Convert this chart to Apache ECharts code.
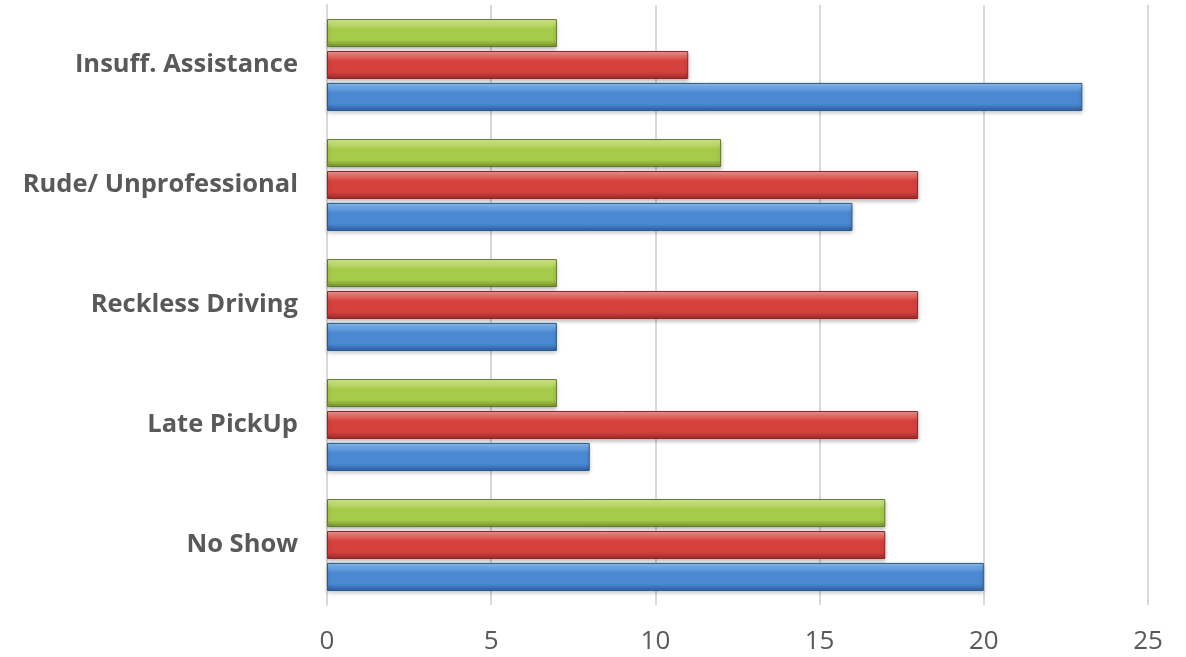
<!DOCTYPE html>
<html>
<head>
<meta charset="utf-8">
<script src="https://cdn.jsdelivr.net/npm/echarts@6/dist/echarts.min.js"></script>
<style>
html, body { margin: 0; padding: 0; background: #fff; }
#main { width: 1186px; height: 657px; }
</style>
</head>
<body>
<div id="main"></div>
<script>
// categories, bottom to top
var categories = ['No Show', 'Late PickUp', 'Reckless Driving', 'Rude/ Unprofessional', 'Insuff. Assistance'];
var blueValues = [20, 8, 7, 16, 23];
var redValues = [17, 18, 18, 18, 11];
var greenValues = [17, 7, 7, 12, 7];

function bevel(top, mid, bottom) {
    return new echarts.graphic.LinearGradient(0, 0, 0, 1, [
        {offset: 0, color: top},
        {offset: 0.35, color: mid},
        {offset: 0.75, color: mid},
        {offset: 1, color: bottom}
    ]);
}

function barSeries(name, data, top, mid, bottom, border) {
    return {
        name: name,
        type: 'bar',
        data: data,
        barWidth: 28,
        barGap: '14%',
        barCategoryGap: '23%',
        itemStyle: {
            color: bevel(top, mid, bottom),
            borderColor: border,
            borderWidth: 1,
            shadowColor: 'rgba(0,0,0,0.25)',
            shadowBlur: 4,
            shadowOffsetY: 2
        }
    };
}

var myChart = echarts.init(document.getElementById('main'));
var option = {
    animation: false,
    grid: {left: 327, right: 38, top: 5, bottom: 52},
    xAxis: {
        type: 'value',
        min: 0,
        max: 25,
        interval: 5,
        axisLine: {show: false},
        axisTick: {show: false},
        splitLine: {lineStyle: {color: '#d9d9d9', width: 2}},
        axisLabel: {
            color: '#595959',
            fontSize: 26,
            fontFamily: 'Open Sans',
            margin: 24
        }
    },
    yAxis: {
        type: 'category',
        data: categories,
        axisLine: {lineStyle: {color: '#d9d9d9', width: 2}},
        axisTick: {show: false},
        axisLabel: {
            color: '#595959',
            fontSize: 25.5,
            fontWeight: 'bold',
            fontFamily: 'Open Sans',
            margin: 29
        }
    },
    // first series sits at the top of each band
    series: [
        barSeries('Green', greenValues, '#dcf09a', '#a6cb4a', '#728f2c', '#61792a'),
        barSeries('Red', redValues, '#f49a97', '#d5413d', '#9b2a27', '#8a2624'),
        barSeries('Blue', blueValues, '#8fc1f2', '#4a89d2', '#2d5d9c', '#2a568f')
    ]
};
myChart.setOption(option);
</script>
</body>
</html>
